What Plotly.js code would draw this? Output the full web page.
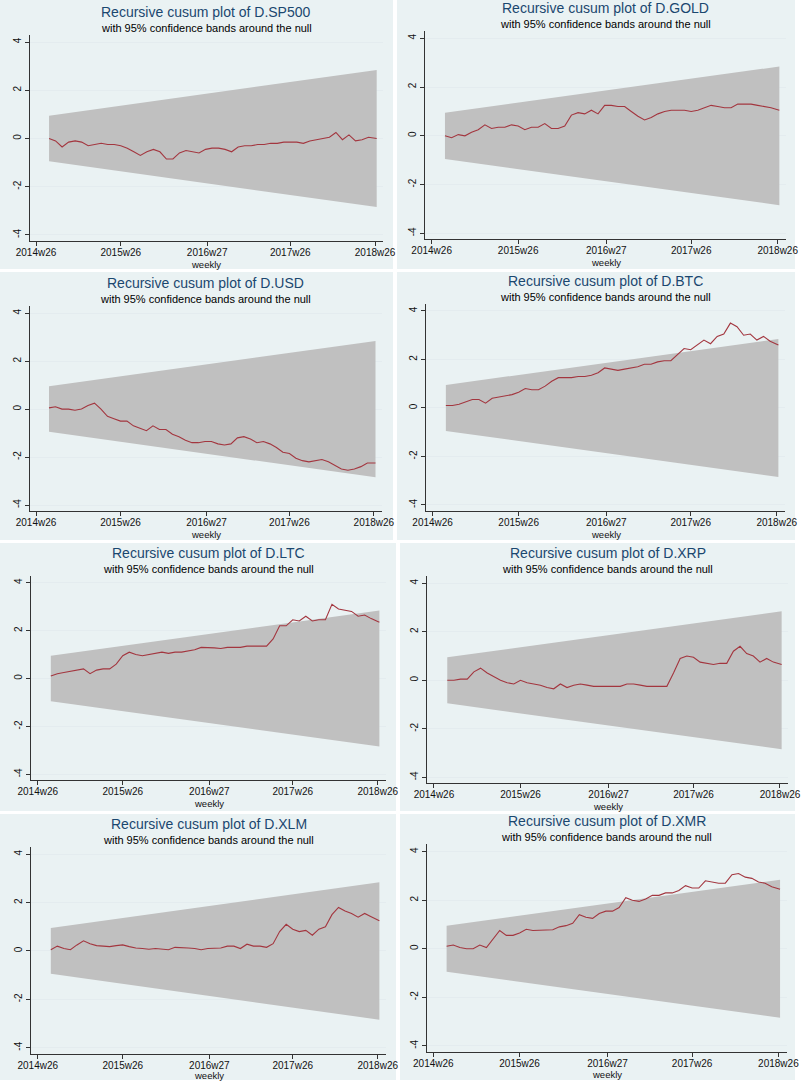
<!DOCTYPE html>
<html>
<head>
<meta charset="utf-8">
<script src="https://cdn.plot.ly/plotly-3.0.1.min.js"></script>
<style>
  html, body { margin: 0; padding: 0; background: #ffffff; }
  #chart { width: 803px; height: 1082px; }
</style>
</head>
<body>
<div id="chart"></div>
<script>
// ---------------- DATA ----------------
// x: weeks since 2014w26 (Stata weekly index)
const tickWeeks = [0, 52, 105, 156, 208];
const tickLabels = ["2014w26", "2015w26", "2016w27", "2017w26", "2018w26"];
const yTicks = [-4, -2, 0, 2, 4];

const weeks = [8,12,16,20,24,28,32,36,40,44,48,52,56,60,64,68,72,76,80,84,88,92,96,100,104,108,112,116,120,124,128,132,136,140,144,148,152,156,160,164,168,172,176,180,184,188,192,196,200,204,209];

// 95% confidence band endpoints (straight lines)
const bandWeeks = [8, 209];
const bandUpper = [0.948, 2.844];
const bandLower = [-0.948, -2.844];

const seriesNames = ["D.SP500", "D.GOLD", "D.USD", "D.BTC", "D.LTC", "D.XRP", "D.XLM", "D.XMR"];

const sp500 = [0.0,-0.1,-0.35,-0.15,-0.1,-0.15,-0.3,-0.25,-0.2,-0.25,-0.25,-0.3,-0.4,-0.55,-0.7,-0.55,-0.45,-0.55,-0.85,-0.85,-0.6,-0.5,-0.55,-0.6,-0.45,-0.4,-0.4,-0.45,-0.55,-0.35,-0.3,-0.3,-0.25,-0.25,-0.2,-0.2,-0.15,-0.15,-0.15,-0.2,-0.1,-0.05,0.0,0.05,0.25,-0.05,0.15,-0.1,-0.05,0.05,0.0];
const gold = [0.0,-0.08,0.05,0.0,0.15,0.25,0.45,0.3,0.35,0.35,0.45,0.4,0.25,0.35,0.35,0.5,0.3,0.3,0.4,0.85,0.95,0.9,1.05,0.9,1.25,1.25,1.2,1.2,1.0,0.8,0.65,0.75,0.9,1.0,1.05,1.05,1.05,1.0,1.05,1.15,1.25,1.2,1.15,1.15,1.3,1.3,1.3,1.25,1.2,1.15,1.05];
const usd = [0.05,0.1,0.0,0.0,-0.05,0.0,0.15,0.25,0.0,-0.3,-0.4,-0.5,-0.5,-0.7,-0.8,-0.9,-0.7,-0.85,-0.85,-1.05,-1.15,-1.3,-1.4,-1.4,-1.35,-1.35,-1.45,-1.5,-1.45,-1.2,-1.15,-1.25,-1.4,-1.35,-1.45,-1.6,-1.8,-1.85,-2.05,-2.15,-2.2,-2.15,-2.1,-2.2,-2.35,-2.5,-2.55,-2.5,-2.4,-2.25,-2.25];
const btc = [0.1,0.1,0.15,0.25,0.35,0.35,0.2,0.4,0.45,0.5,0.55,0.65,0.8,0.75,0.75,0.9,1.1,1.25,1.25,1.25,1.3,1.3,1.35,1.45,1.65,1.6,1.55,1.6,1.65,1.7,1.8,1.8,1.9,1.95,1.95,2.2,2.45,2.4,2.6,2.8,2.65,2.95,3.05,3.5,3.35,3.0,3.05,2.8,2.95,2.75,2.6];
const ltc = [0.1,0.2,0.25,0.3,0.35,0.4,0.2,0.35,0.4,0.4,0.6,0.95,1.1,1.0,0.95,1.0,1.05,1.1,1.05,1.1,1.1,1.15,1.2,1.3,1.3,1.28,1.25,1.3,1.3,1.3,1.35,1.35,1.35,1.35,1.65,2.2,2.2,2.45,2.4,2.6,2.4,2.45,2.45,3.1,2.9,2.85,2.8,2.6,2.65,2.5,2.35];
const xrp = [0.0,0.0,0.05,0.05,0.35,0.5,0.3,0.15,0.0,-0.1,-0.15,0.0,-0.1,-0.15,-0.2,-0.3,-0.35,-0.15,-0.3,-0.2,-0.15,-0.2,-0.25,-0.25,-0.25,-0.25,-0.25,-0.15,-0.15,-0.2,-0.25,-0.25,-0.25,-0.25,0.3,0.9,1.0,0.95,0.75,0.7,0.65,0.7,0.7,1.2,1.4,1.1,1.0,0.75,0.9,0.75,0.65];
const xlm = [0.05,0.2,0.1,0.05,0.25,0.42,0.3,0.22,0.2,0.18,0.22,0.25,0.18,0.12,0.1,0.07,0.1,0.07,0.05,0.15,0.12,0.12,0.1,0.05,0.1,0.1,0.12,0.2,0.2,0.1,0.28,0.2,0.2,0.15,0.3,0.8,1.1,0.9,0.8,0.85,0.65,0.9,1.0,1.5,1.8,1.65,1.55,1.4,1.55,1.42,1.25];
const xmr = [0.1,0.15,0.05,0.0,0.0,0.15,0.05,0.4,0.75,0.55,0.55,0.65,0.8,0.75,0.75,0.78,0.78,0.9,0.95,1.05,1.4,1.3,1.25,1.45,1.55,1.55,1.7,2.1,2.0,1.95,2.05,2.2,2.2,2.3,2.3,2.4,2.6,2.5,2.5,2.8,2.75,2.7,2.7,3.05,3.1,2.95,2.9,2.75,2.7,2.55,2.45];

const seriesValues = [sp500, gold, usd, btc, ltc, xrp, xlm, xmr];

// ---------------- LAYOUT (pixel geometry of each panel) ----------------
const W = 803, H = 1082;
const panels = [
  { bg: [0, 0, 393, 269],     plot: [29.5, 34.8, 383.2, 241] },
  { bg: [397, 0, 795, 269],   plot: [425, 31, 786, 239.4] },
  { bg: [0, 272, 393, 540],   plot: [29.5, 306, 382, 511] },
  { bg: [397, 272, 795, 540], plot: [426, 303.7, 785, 511] },
  { bg: [0, 543, 396, 811],   plot: [31.2, 575.5, 385.9, 780.3] },
  { bg: [400, 543, 795, 811], plot: [427.3, 576, 788.3, 783.4] },
  { bg: [0, 814, 396, 1080],  plot: [31.2, 847, 385.9, 1053.7] },
  { bg: [400, 814, 795, 1080],plot: [426.7, 844.4, 786.7, 1051.8] }
];

const FONT = "Liberation Sans, Arial, Helvetica, sans-serif";
const BG = "#eaf2f3";
const TITLE_COLOR = "#1a476f";
const LINE_COLOR = "#a3363f";
const BAND_COLOR = "#c0c0c0";

const px = x => x / W;
const py = y => 1 - y / H;

const traces = [];
const layout = {
  width: W, height: H,
  margin: { l: 0, r: 0, t: 0, b: 0 },
  paper_bgcolor: "#ffffff",
  plot_bgcolor: "#ffffff",
  showlegend: false,
  font: { family: FONT, color: "#000" },
  shapes: [],
  annotations: []
};

panels.forEach((p, i) => {
  const n = i + 1;
  const xa = n === 1 ? "x" : "x" + n;
  const ya = n === 1 ? "y" : "y" + n;
  const xkey = n === 1 ? "xaxis" : "xaxis" + n;
  const ykey = n === 1 ? "yaxis" : "yaxis" + n;
  const [L, T, R, B] = p.plot;

  // panel background
  layout.shapes.push({
    type: "rect", xref: "paper", yref: "paper", layer: "below",
    x0: px(p.bg[0]), x1: px(p.bg[2]), y0: py(p.bg[3]), y1: py(p.bg[1]),
    fillcolor: BG, line: { width: 0 }
  });

  layout[xkey] = {
    domain: [px(L), px(R)],
    anchor: ya,
    range: [-4, 213],
    tickvals: tickWeeks,
    ticktext: tickLabels,
    ticks: "outside", ticklen: 4, tickwidth: 1, tickcolor: "#333",
    ticklabelstandoff: -2,
    showline: true, linecolor: "#333", linewidth: 1,
    showgrid: false, zeroline: false,
    tickfont: { family: FONT, size: 10, color: "#111" },
    fixedrange: true
  };
  layout[ykey] = {
    domain: [py(B), py(T)],
    anchor: xa,
    range: [-4.25, 4.3],
    tickvals: yTicks,
    ticktext: yTicks.map(String),
    tickangle: -90,
    ticks: "outside", ticklen: 4, tickwidth: 1, tickcolor: "#333",
    showline: true, linecolor: "#333", linewidth: 1,
    showgrid: true, gridcolor: "#e4ecef", gridwidth: 1,
    zeroline: false,
    tickfont: { family: FONT, size: 10, color: "#111" },
    fixedrange: true
  };

  // confidence band polygon
  traces.push({
    type: "scatter", mode: "lines", xaxis: xa, yaxis: ya,
    x: [bandWeeks[0], bandWeeks[1], bandWeeks[1], bandWeeks[0]],
    y: [bandUpper[0], bandUpper[1], bandLower[1], bandLower[0]],
    fill: "toself", fillcolor: BAND_COLOR,
    line: { width: 0, color: BAND_COLOR },
    hoverinfo: "skip"
  });
  // cusum line
  traces.push({
    type: "scatter", mode: "lines", xaxis: xa, yaxis: ya,
    x: weeks, y: seriesValues[i],
    line: { color: LINE_COLOR, width: 1.1 },
    name: seriesNames[i]
  });

  const cx = (L + R) / 2;
  layout.annotations.push({
    xref: "paper", yref: "paper", x: px(cx), y: py(T - 23),
    xanchor: "center", yanchor: "middle", showarrow: false,
    text: "Recursive cusum plot of " + seriesNames[i],
    font: { family: FONT, size: 14, color: TITLE_COLOR }
  });
  layout.annotations.push({
    xref: "paper", yref: "paper", x: px(cx), y: py(T - 7),
    xanchor: "center", yanchor: "middle", showarrow: false,
    text: "with 95% confidence bands around the null",
    font: { family: FONT, size: 11, color: "#000" }
  });
  layout.annotations.push({
    xref: "paper", yref: "paper", x: px(cx), y: py(Math.min(B + 23, 1075)),
    xanchor: "center", yanchor: "middle", showarrow: false,
    text: "weekly",
    font: { family: FONT, size: 9.5, color: "#111" }
  });
});

Plotly.newPlot("chart", traces, layout, { staticPlot: true, displayModeBar: false });
</script>
</body>
</html>
